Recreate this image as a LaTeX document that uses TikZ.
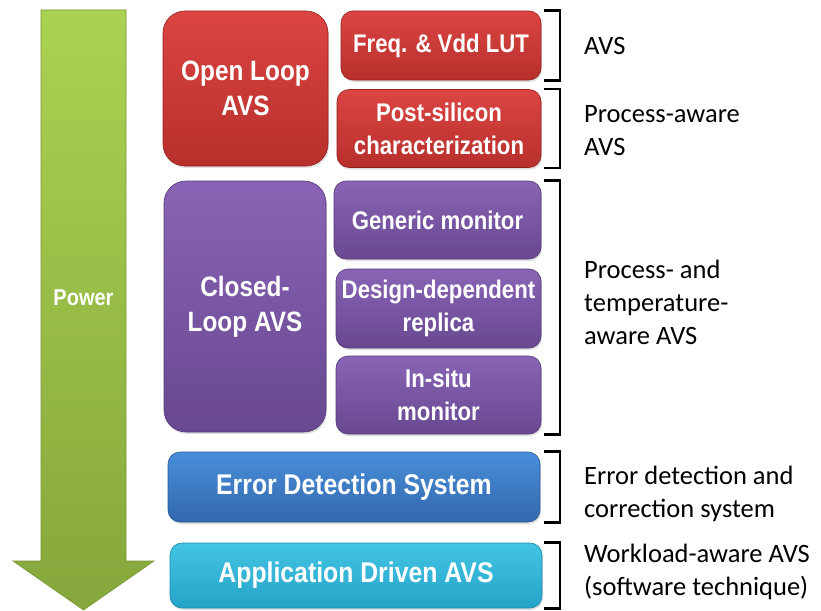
\documentclass[tikz,border=0pt]{standalone}
\usepackage{fontspec}
\newfontfamily\boxfont[FakeStretch=0.87]{Liberation Sans Bold}
\newfontfamily\labfont{Carlito}
\usetikzlibrary{shadows}
\definecolor{redT}{RGB}{219,69,66}
\definecolor{redB}{RGB}{183,47,44}
\definecolor{redE}{RGB}{150,32,30}
\definecolor{purT}{RGB}{137,100,182}
\definecolor{purB}{RGB}{104,72,144}
\definecolor{purE}{RGB}{85,58,120}
\definecolor{bluT}{RGB}{72,142,217}
\definecolor{bluB}{RGB}{50,104,174}
\definecolor{bluE}{RGB}{40,85,150}
\definecolor{cyaT}{RGB}{66,196,228}
\definecolor{cyaB}{RGB}{38,164,200}
\definecolor{cyaE}{RGB}{30,135,170}
\definecolor{grnT}{RGB}{170,210,82}
\definecolor{grnB}{RGB}{134,167,60}
\definecolor{grnE}{RGB}{120,150,50}
\tikzset{
  boxbase/.style={rectangle, inner sep=0pt, align=center, text=white,
    line width=0.6pt, drop shadow={opacity=0.25, shadow xshift=1pt, shadow yshift=-2pt}},
  redbox/.style={boxbase, draw=redE, top color=redT, bottom color=redB},
  purbox/.style={boxbase, draw=purE, top color=purT, bottom color=purB},
  blubox/.style={boxbase, draw=bluE, top color=bluT, bottom color=bluB},
  cyabox/.style={boxbase, draw=cyaE, top color=cyaT, bottom color=cyaB},
  bigtxt/.style={font=\boxfont\fontsize{28}{35}\selectfont},
  smalltxt/.style={font=\boxfont\fontsize{25.5}{33}\selectfont},
  widetxt/.style={font=\boxfont\fontsize{28.5}{34}\selectfont},
  lab/.style={anchor=west, align=left, inner sep=0pt, font=\labfont\fontsize{26.5}{33}\selectfont},
  brk/.style={draw=black, line width=2.5pt, line join=miter}
}
\begin{document}
\begin{tikzpicture}[x=1pt,y=-1pt]
\useasboundingbox[fill=white] (0,0) rectangle (821,610);
% power arrow
\path[draw=grnE, line width=0.6pt, top color=grnT, bottom color=grnB]
  (41,10) -- (126,10) -- (126,561) -- (154,561) -- (83.5,610) -- (13,561) -- (41,561) -- cycle;
\node[font=\boxfont\fontsize{23}{28}\selectfont, text=white] (power) at (83.5,298) {Power};
% red
\node[redbox, bigtxt, rounded corners=22pt, minimum width=165pt, minimum height=155pt] (open) at (245.5,88.5) {Open Loop\\AVS};
\node[redbox, smalltxt, rounded corners=12pt, minimum width=200pt, minimum height=69pt] (freq) at (441,45.5) {Freq. \& Vdd LUT};
\node[redbox, smalltxt, rounded corners=12pt, minimum width=204pt, minimum height=78pt] (post) at (439,128.5) {Post-silicon\\characterization};
% purple
\node[purbox, bigtxt, rounded corners=22pt, minimum width=162pt, minimum height=251pt] (closed) at (245,306.5) {Closed-\\Loop AVS};
\node[purbox, smalltxt, rounded corners=12pt, minimum width=207pt, minimum height=78pt] (generic) at (437.5,220) {Generic monitor};
\node[purbox, smalltxt, rounded corners=12pt, minimum width=205pt, minimum height=79pt] (design) at (438.5,308.5) {Design-dependent\\replica};
\node[purbox, smalltxt, rounded corners=12pt, minimum width=205pt, minimum height=78pt] (insitu) at (438.5,395) {In-situ\\monitor};
% blue and cyan
\node[blubox, widetxt, rounded corners=12pt, minimum width=372pt, minimum height=70pt] (eds) at (354,487) {Error Detection System};
\node[cyabox, widetxt, rounded corners=12pt, minimum width=372pt, minimum height=65pt] (app) at (356,575.5) {Application Driven AVS};
% brackets
\coordinate (bl) at (544,0);
\coordinate (br) at (560,0);
\draw[brk] (freq.north -| bl) -- (freq.north -| br) -- (freq.south -| br) -- (freq.south -| bl);
\draw[brk] (post.north -| bl) -- (post.north -| br) -- (post.south -| br) -- (post.south -| bl);
\draw[brk] (generic.north -| bl) -- (generic.north -| br) -- (insitu.south -| br) -- (insitu.south -| bl);
\draw[brk] (eds.north -| bl) -- (eds.north -| br) -- (eds.south -| br) -- (eds.south -| bl);
\draw[brk] (app.north -| bl) -- (app.north -| br) -- (app.south -| br) -- (app.south -| bl);
% labels
\node[lab] (l1) at (584,46) {AVS};
\node[lab] (l2) at (584,131) {Process-aware\\AVS};
\node[lab] (l3) at (584,302) {Process- and\\temperature-\\aware AVS};
\node[lab] (l4) at (584,494) {Error detection and\\correction system};
\node[lab] (l5) at (584,572) {Workload-aware AVS\\(software technique)};
\end{tikzpicture}
\end{document}
